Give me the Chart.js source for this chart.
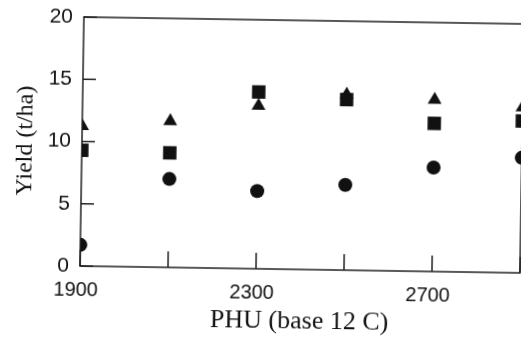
<!DOCTYPE html>
<html>
<head>
<meta charset="utf-8">
<script src="https://cdn.jsdelivr.net/npm/chart.js"></script>
<style>
  html, body { margin: 0; padding: 0; background: #fff; overflow: hidden; }
  /* the scanned figure sits slightly rotated */
  #wrap { width: 521px; height: 337px; transform: rotate(0.9deg); transform-origin: 80px 266px; }
</style>
</head>
<body>
<div id="wrap"><canvas id="yield-chart" width="521" height="337"></canvas></div>
<script>
// PHU (base 12 C) vs yield (t/ha), three series
const phu = [1900, 2100, 2300, 2500, 2700, 2900];
const triangleYield = [11.25, 11.75, 13.1, 14.1, 13.8, 13.3];
const squareYield = [9.3, 9.2, 14.2, 13.7, 11.9, 12.2];
const circleYield = [1.7, 7.1, 6.25, 6.85, 8.35, 9.25];
const xLabels = [1900, 2300, 2700];
const yTicks = [0, 5, 10, 15, 20];

const ink = '#111';

function toPoints(values) {
  return phu.map((x, i) => ({ x: x, y: values[i] }));
}

// box around the plot plus inward tick marks
const frame = {
  id: 'frame',
  beforeDatasetsDraw(chart) {
    const { ctx, chartArea: a, scales } = chart;
    ctx.save();
    ctx.strokeStyle = '#222';
    ctx.lineWidth = 1.5;
    ctx.strokeRect(a.left, a.top, a.right - a.left, a.bottom - a.top);
    ctx.beginPath();
    scales.x.ticks.forEach(t => {
      const px = scales.x.getPixelForValue(t.value);
      ctx.moveTo(px, a.bottom);
      ctx.lineTo(px, a.bottom - 16);
    });
    yTicks.forEach(v => {
      const py = scales.y.getPixelForValue(v);
      ctx.moveTo(a.left, py);
      ctx.lineTo(a.left + 13, py);
    });
    ctx.stroke();
    ctx.restore();
  }
};

const ctx = document.getElementById('yield-chart').getContext('2d');
const myChart = new Chart(ctx, {
  type: 'scatter',
  data: {
    datasets: [
      {
        label: 'triangle',
        data: toPoints(triangleYield),
        pointStyle: 'triangle',
        pointRadius: 8,
        backgroundColor: ink,
        borderColor: ink,
        borderWidth: 0
      },
      {
        label: 'square',
        data: toPoints(squareYield),
        pointStyle: 'rect',
        pointRadius: 9.5,
        backgroundColor: ink,
        borderColor: ink,
        borderWidth: 0
      },
      {
        label: 'circle',
        data: toPoints(circleYield),
        pointStyle: 'circle',
        pointRadius: 7,
        backgroundColor: ink,
        borderColor: ink,
        borderWidth: 0
      }
    ]
  },
  options: {
    responsive: false,
    animation: false,
    layout: {
      autoPadding: false,
      padding: { top: 17, right: 1, left: 0, bottom: 0 }
    },
    plugins: {
      legend: { display: false },
      tooltip: { enabled: false }
    },
    scales: {
      x: {
        type: 'linear',
        min: 1900,
        max: 2900,
        grid: { display: false, drawTicks: false },
        border: { display: false },
        ticks: {
          stepSize: 200,
          autoSkip: false,
          maxRotation: 0,
          padding: 12,
          labelOffset: -4,
          color: ink,
          font: { family: 'Liberation Sans', size: 20 },
          callback: value => xLabels.includes(value) ? String(value) : ''
        },
        title: {
          display: true,
          text: 'PHU (base 12 C)',
          color: ink,
          font: { family: 'Liberation Serif', size: 26, lineHeight: 1 },
          padding: { top: 0, bottom: 6 }
        },
        afterFit: scale => {
          scale.height = 71;
          scale.paddingLeft = 0;
          scale.paddingRight = 0;
        }
      },
      y: {
        min: 0,
        max: 20,
        grid: { display: false, drawTicks: false },
        border: { display: false },
        ticks: {
          stepSize: 5,
          padding: 11,
          color: ink,
          font: { family: 'Liberation Sans', size: 21 }
        },
        title: {
          display: true,
          text: 'Yield (t/ha)',
          color: ink,
          font: { family: 'Liberation Serif', size: 24, lineHeight: 1 },
          padding: { top: 12, bottom: 0 }
        },
        afterFit: scale => {
          scale.width = 80;
          scale.paddingTop = 0;
          scale.paddingBottom = 0;
        }
      }
    }
  },
  plugins: [frame]
});
</script>
</body>
</html>
